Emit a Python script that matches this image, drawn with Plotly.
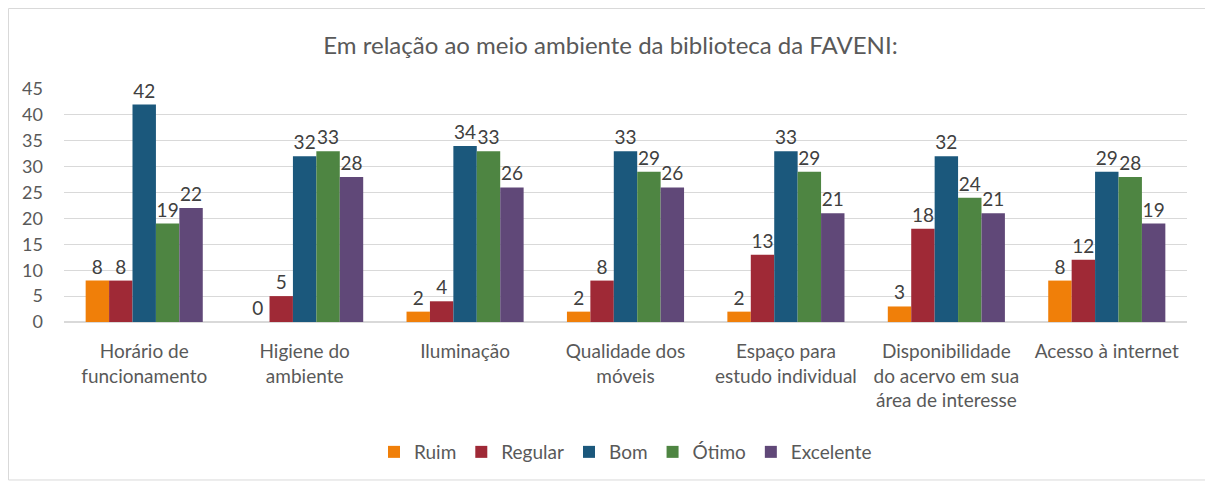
import plotly.graph_objects as go

categories = ["Horário de<br>funcionamento", "Higiene do<br>ambiente", "Iluminação",
              "Qualidade dos<br>móveis", "Espaço para<br>estudo individual",
              "Disponibilidade<br>do acervo em sua<br>área de interesse", "Acesso à internet"]
series_names = ["Ruim", "Regular", "Bom", "Ótimo", "Excelente"]
ruim = [8, 0, 2, 2, 2, 3, 8]
regular = [8, 5, 4, 8, 13, 18, 12]
bom = [42, 32, 34, 33, 33, 32, 29]
otimo = [19, 33, 33, 29, 29, 24, 28]
excelente = [22, 28, 26, 26, 21, 21, 19]
colors = ["#F07F09", "#9F2936", "#1B587C", "#4E8542", "#604878"]
tick_vals = [0, 5, 10, 15, 20, 25, 30, 35, 40, 45]

FONT = "Lato"
TXT = "#595959"
fig = go.Figure()
for name, vals, c in zip(series_names, [ruim, regular, bom, otimo, excelente], colors):
    fig.add_trace(go.Bar(
        x=categories, y=vals, name=name, marker=dict(color=c, line=dict(width=0)),
        text=[str(v) for v in vals], textposition="outside", cliponaxis=False,
        textfont=dict(family=FONT, size=19, color="#404040"),
    ))

fig.update_layout(
    width=1205, height=476,
    margin=dict(l=56, r=26, t=81, b=162, autoexpand=False),
    paper_bgcolor="white", plot_bgcolor="white",
    barmode="group", bargap=0.27, bargroupgap=0,
    title=dict(text="Em relação ao meio ambiente da biblioteca da FAVENI:",
               x=0.5, xanchor="center", y=0.922, yanchor="middle",
               font=dict(family=FONT, size=24, color=TXT)),
    font=dict(family=FONT, size=19, color=TXT),
    yaxis=dict(range=[0, 45], tickvals=tick_vals, showgrid=True, gridcolor="#D9D9D9",
               gridwidth=1, zeroline=True, zerolinecolor="#D9D9D9", showline=False,
               ticks="", ticklabelstandoff=20, automargin=False,
               tickfont=dict(family=FONT, size=18, color=TXT)),
    xaxis=dict(showline=False, ticks="", automargin=False,
               tickfont=dict(family=FONT, size=19, color=TXT),
               ticklabelstandoff=16),
    legend=dict(orientation="h", x=0.5, xanchor="center", y=-0.558, yanchor="middle",
                font=dict(family=FONT, size=19, color=TXT), itemwidth=30,
                tracegroupgap=0),
    shapes=[dict(type="rect", xref="paper", yref="paper", x0=-0.0494, x1=1.0187,
                 y0=-0.678, y1=1.3455, line=dict(color="#D9D9D9", width=1))],
)
fig.write_html("out.html")
